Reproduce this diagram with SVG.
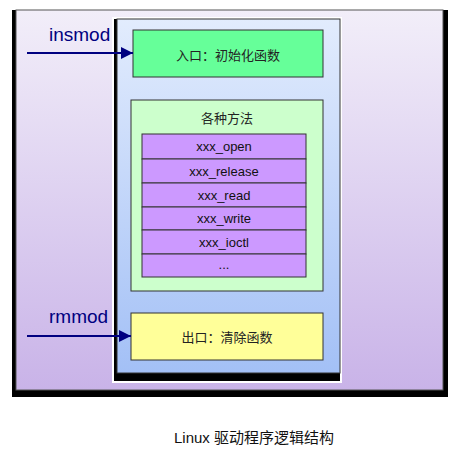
<svg xmlns="http://www.w3.org/2000/svg" width="462" height="456" viewBox="0 0 462 456">
<defs>
<linearGradient id="gOuter" x1="0" y1="0" x2="0" y2="1"><stop offset="0" stop-color="#f2eef9"/><stop offset="1" stop-color="#c9b3e8"/></linearGradient>
<linearGradient id="gBlue" x1="0" y1="0" x2="0" y2="1"><stop offset="0" stop-color="#e2ecfd"/><stop offset="1" stop-color="#a3c0f6"/></linearGradient>
<marker id="arr" viewBox="0 0 12 12" refX="12" refY="6" markerWidth="12" markerHeight="12" markerUnits="userSpaceOnUse" orient="auto"><path d="M0,0 L12,6 L0,12 Z" fill="#000080"/></marker>
</defs>
<style>
.box{stroke:#333;stroke-width:1}
.cjk{font-family:"Noto Sans CJK SC","Liberation Serif",serif;font-size:13px;fill:#222;text-anchor:middle;dominant-baseline:central}
.fn{font-family:"Liberation Sans",Arial,sans-serif;font-size:13px;fill:#111;text-anchor:middle;dominant-baseline:central}
.cmd{font-family:"Liberation Sans",Arial,sans-serif;font-size:19px;fill:#000080}
.conn{stroke:#000080;stroke-width:2;fill:none;marker-end:url(#arr)}
</style>
<rect width="462" height="456" fill="#fff"/>
<g id="module">
<rect x="12" y="10" width="436" height="387" fill="#000"/>
<rect x="16" y="10" width="427" height="380" fill="url(#gOuter)" stroke="#555" stroke-width="1"/>
</g>
<g id="driver">
<rect x="112" y="17" width="230" height="366" fill="#fff"/>
<rect x="114" y="19" width="226" height="362" fill="#000"/>
<rect x="117" y="19" width="223" height="354" fill="url(#gBlue)" stroke="#333" stroke-width="1"/>
</g>
<g id="entry">
<rect class="box" x="133" y="30" width="190" height="47" fill="#66ff99"/>
<text class="cjk" x="228" y="54">入口：初始化函数</text>
</g>
<g id="methods">
<rect class="box" x="131" y="100" width="192" height="191" fill="#ccffcc"/>
<text class="cjk" x="227" y="117">各种方法</text>
</g>
<g id="xxx_open"><rect class="box" x="142" y="134" width="164" height="25" fill="#cc99ff"/><text class="fn" x="224" y="146.5">xxx_open</text></g>
<g id="xxx_release"><rect class="box" x="142" y="159" width="164" height="24" fill="#cc99ff"/><text class="fn" x="224" y="171">xxx_release</text></g>
<g id="xxx_read"><rect class="box" x="142" y="183" width="164" height="24" fill="#cc99ff"/><text class="fn" x="224" y="195">xxx_read</text></g>
<g id="xxx_write"><rect class="box" x="142" y="207" width="164" height="23" fill="#cc99ff"/><text class="fn" x="224" y="218.5">xxx_write</text></g>
<g id="xxx_ioctl"><rect class="box" x="142" y="230" width="164" height="24" fill="#cc99ff"/><text class="fn" x="224" y="242">xxx_ioctl</text></g>
<g id="more"><rect class="box" x="142" y="254" width="164" height="23" fill="#cc99ff"/><text class="fn" x="224" y="264">...</text></g>
<g id="exit">
<rect class="box" x="131" y="313" width="192" height="47" fill="#ffff99"/>
<text class="cjk" x="227" y="336">出口：清除函数</text>
</g>
<g id="connectors">
<line class="conn" x1="27" y1="53" x2="133" y2="53"/>
<line class="conn" x1="27" y1="336" x2="131" y2="336"/>
</g>
<g id="labels">
<text class="cmd" x="49" y="41">insmod</text>
<text class="cmd" x="49" y="323">rmmod</text>
<text x="254" y="443" font-family="Liberation Sans,'Noto Sans CJK SC',sans-serif" font-size="15" fill="#111" text-anchor="middle">Linux 驱动程序逻辑结构</text>
</g>
</svg>
